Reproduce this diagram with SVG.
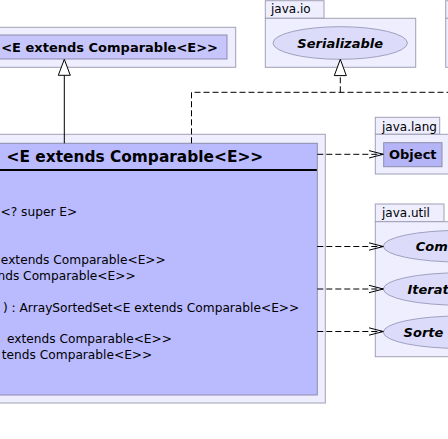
<svg xmlns="http://www.w3.org/2000/svg" width="448" height="439" viewBox="0 0 448 439">
<style>
.pkg{fill:#eeeeff;stroke:#a0a0b4;stroke-width:1}
.cls{stroke:#8c8cac;stroke-width:1}
.ell{fill:#dcdcfa;stroke:#a0a0c0;stroke-width:1}
.plabel{font-family:"DejaVu Sans",sans-serif;font-size:12px;fill:#000}
.cname{font-family:"DejaVu Sans",sans-serif;font-size:13px;font-weight:bold;fill:#000}
.iname{font-family:"DejaVu Sans",sans-serif;font-size:13px;font-weight:bold;font-style:italic;fill:#000}
.body{font-family:"DejaVu Sans",sans-serif;font-size:12.2px;fill:#000}
.dash{fill:none;stroke:#000;stroke-width:1;stroke-dasharray:6,3}
.solid{fill:none;stroke:#000;stroke-width:1}
.tri{fill:#fff;stroke:#000;stroke-width:1}
.open{fill:none;stroke:#000;stroke-width:1}
</style>
<rect x="0" y="0" width="448" height="439" fill="#fff"/>

<g id="pkg-top-left">
<rect class="pkg" x="-10" y="27.3" width="245.7" height="40"/>
</g>
<g id="class-top-left">
<rect class="cls" x="-10" y="35" width="237" height="24" fill="#c6c6fc"/>
<text class="cname" x="218" y="52.3" text-anchor="end">&lt;E extends Comparable&lt;E&gt;&gt;</text>
</g>

<g id="pkg-java-io">
<rect class="pkg" x="265.3" y="0.7" width="58.7" height="17.6"/>
<rect class="pkg" x="265.3" y="18.3" width="150.4" height="49"/>
<text class="plabel" x="271" y="12.8">java.io</text>
</g>
<g id="serializable">
<ellipse class="ell" cx="340.2" cy="43" rx="67.2" ry="16.3"/>
<text class="iname" x="340.2" y="47.6" text-anchor="middle">Serializable</text>
</g>

<g id="pkg-top-right">
<rect class="pkg" x="445.7" y="0.7" width="60" height="17.6"/>
<rect class="pkg" x="445.7" y="18.3" width="60" height="49"/>
</g>

<g id="pkg-main">
<rect class="pkg" x="-10" y="134.3" width="335.3" height="268.7"/>
</g>
<g id="class-main">
<rect class="cls" x="-10" y="143.3" width="327.3" height="251.7" fill="#babaff"/>
<line x1="-10" y1="170" x2="316.8" y2="170" stroke="#000" stroke-width="2"/>
<text x="263.2" y="162" text-anchor="end" style="font-family:'DejaVu Sans',sans-serif;font-size:15.4px;font-weight:bold">&lt;E extends Comparable&lt;E&gt;&gt;</text>
<text class="body" x="77.2" y="216.1" text-anchor="end">&lt;? super E&gt;</text>
<text class="body" x="165.8" y="263.6" text-anchor="end">extends Comparable&lt;E&gt;&gt;</text>
<text class="body" x="135.6" y="279.5" text-anchor="end">nds Comparable&lt;E&gt;&gt;</text>
<text class="body" x="299.3" y="311.6" text-anchor="end">) : ArraySortedSet&lt;E extends Comparable&lt;E&gt;&gt;</text>
<text class="body" x="172" y="343.1" text-anchor="end"> extends Comparable&lt;E&gt;&gt;</text>
<text class="body" x="152.3" y="359" text-anchor="end">tends Comparable&lt;E&gt;&gt;</text>
</g>

<g id="pkg-java-lang">
<rect class="pkg" x="375.3" y="117.3" width="64.4" height="17"/>
<rect class="pkg" x="375.3" y="134.3" width="75" height="39.7"/>
<text class="plabel" x="382" y="130.7">java.lang</text>
</g>
<g id="object">
<rect class="cls" x="383.7" y="142.7" width="58.3" height="24" fill="#b4b4f6"/>
<text class="cname" x="412.8" y="158.8" text-anchor="middle">Object</text>
</g>

<g id="pkg-java-util">
<rect class="pkg" x="375.3" y="204" width="68.7" height="17.7"/>
<rect class="pkg" x="375.3" y="221.7" width="90" height="135"/>
<text class="plabel" x="382" y="217.3">java.util</text>
</g>
<g id="comparable">
<ellipse class="ell" cx="460" cy="246.2" rx="76.7" ry="15.8"/>
<text class="iname" x="415.8" y="250.9">Com</text>
</g>
<g id="iterator">
<ellipse class="ell" cx="460" cy="289" rx="76.7" ry="16.2"/>
<text class="iname" x="407.5" y="293.7">Iterat</text>
</g>
<g id="sortedset">
<ellipse class="ell" cx="460" cy="332.2" rx="76.7" ry="16.2"/>
<text class="iname" x="403.6" y="336.9">Sorte</text>
</g>

<g id="connectors">
<line class="solid" x1="64.3" y1="143.3" x2="64.3" y2="75.3"/>
<polygon class="tri" points="64.3,59.3 58.3,75.3 70.3,75.3"/>
<polyline class="dash" points="191.5,143.3 191.5,92.3 452,92.3"/>
<line class="dash" x1="340.3" y1="92.3" x2="340.3" y2="75.6"/>
<polygon class="tri" points="340.3,59.3 334.3,75.6 346.3,75.6"/>
<line class="dash" x1="317.3" y1="154.3" x2="383.3" y2="154.3"/>
<polyline class="open" points="369,150.6 383.3,154.3 369,158"/>
<line class="dash" x1="317.3" y1="246.5" x2="383.3" y2="246.5"/>
<polyline class="open" points="369,242.8 383.3,246.5 369,250.2"/>
<line class="dash" x1="317.3" y1="289" x2="383.3" y2="289"/>
<polyline class="open" points="369,285.3 383.3,289 369,292.7"/>
<line class="dash" x1="317.3" y1="331.5" x2="383.3" y2="331.5"/>
<polyline class="open" points="369,327.8 383.3,331.5 369,335.2"/>
</g>
</svg>
